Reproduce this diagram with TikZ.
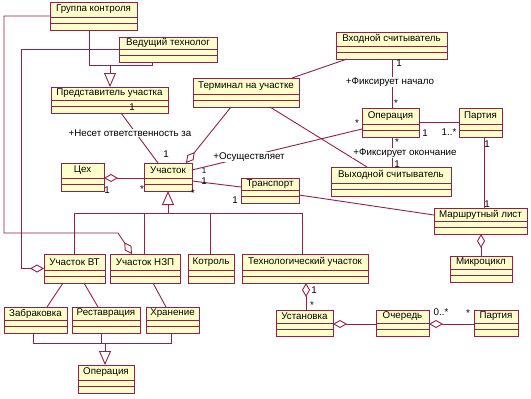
\documentclass[tikz,border=0pt]{standalone}
\usepackage{fontspec}
\setmainfont{Liberation Sans}
\usetikzlibrary{arrows.meta,calc}
\definecolor{umlred}{RGB}{150,30,75}
\definecolor{umlfill}{RGB}{255,255,204}
\newcommand\fs{\fontsize{9.8}{11}\selectfont}
\newcommand\fss{\fontsize{8}{9}\selectfont}
\tikzset{
  ln/.style={draw=umlred, line width=0.9bp},
  cls/.style={draw=umlred, fill=umlfill, line width=0.9bp, inner sep=0pt, outer sep=0pt},
  txt/.style={font=\fs, text=black, inner sep=0pt},
  mult/.style={font=\fs, text=black, inner sep=0pt},
  role/.style={font=\fs, text=black, fill=white, inner sep=1bp},
  smult/.style={font=\fss, text=black, inner sep=0pt},
  agg/.style={-{Diamond[open, length=14bp, width=8bp]}},
  gen/.style={-{Triangle[open, length=14bp, width=12bp]}}
}
\newcommand\umlbox[6]{%
  \node[cls, minimum width={(#4-#2)*1bp}, minimum height={(#5-#3)*1bp}] (#1) at ({(#2+#4)/2},{(#3+#5)/2}) {};
  \draw[ln] ($(#1.south west)+(0,-13)$) -- ($(#1.south east)+(0,-13)$);
  \draw[ln] ($(#1.south west)+(0,-6.5)$) -- ($(#1.south east)+(0,-6.5)$);
  \node[txt] (#1-t) at ({(#2+#4)/2},{(#3+#5-13)/2}) {#6};
}
\begin{document}
\begin{tikzpicture}[x=1bp,y=-1bp]
\fill[white] (0,0) rectangle (531,398);
\useasboundingbox (0,0) rectangle (531,398);

\umlbox{grp}{50}{2}{137}{30}{Группа контроля}
\umlbox{ved}{119}{37}{217}{62}{Ведущий технолог}
\umlbox{pred}{51}{87}{168}{113}{Представитель участка}
\umlbox{term}{193}{78}{299}{107}{Терминал на участке}
\umlbox{vhod}{336}{32}{447}{59}{Входной считыватель}
\umlbox{op1}{362}{108}{419}{137}{Операция}
\umlbox{part1}{459}{108}{502}{137}{Партия}
\umlbox{vyh}{331}{167}{451}{196}{Выходной считыватель}
\umlbox{mar}{434}{208}{527}{234}{Маршрутный лист}
\umlbox{mik}{450}{256}{512}{282}{Микроцикл}
\umlbox{tseh}{61}{163}{104}{191}{Цех}
\umlbox{uch}{144}{163}{192}{191}{Участок}
\umlbox{tr}{241}{178}{299}{203}{Транспорт}
\umlbox{vt}{44}{254}{105}{283}{Участок ВТ}
\umlbox{nzp}{110}{254}{180}{283}{Участок НЗП}
\umlbox{kon}{188}{254}{234}{283}{Котроль}
\umlbox{teh}{242}{254}{368}{283}{Технологический участок}
\umlbox{zab}{4}{307}{67}{333}{Забраковка}
\umlbox{res}{72}{307}{140}{333}{Реставрация}
\umlbox{hran}{146}{307}{199}{333}{Хранение}
\umlbox{op2}{78}{365}{134}{393}{Операция}
\umlbox{ust}{276}{310}{333}{336}{Установка}
\umlbox{och}{376}{310}{429}{336}{Очередь}
\umlbox{part2}{474}{310}{518}{336}{Партия}

% generalization to Представитель участка
\draw[ln] ($(grp.south west)+(39,0)$) |- ($(ved.south west)+(33,3)$) -- ($(ved.south west)+(33,0)$);
\draw[ln,gen] ($(pred.north west)+(59,-22)$) -- ($(pred.north west)+(59,0)$);

% Группа контроля -> Участок НЗП
\draw[ln,agg] (grp.west) -- ($(grp.west)+(-46,0)$) -- ($(grp.west)+(-46,217)$) -- ($(nzp.north west)+(8,-21)$) -- ($(nzp.north west)+(22,0)$);
% Ведущий технолог -> Участок ВТ
\draw[ln,agg] (ved.west) -- ($(ved.west)+(-98,0)$) |- (vt.west);

% Представитель -- Участок
\draw[ln] ($(pred.south west)+(70,0)$) -- ($(uch.north west)+(14,0)$);
% Терминал -> Участок
\draw[ln,agg] ($(term.south west)+(38,0)$) -- ($(uch.north west)+(42,0)$);
% Входной -- Терминал
\draw[ln] ($(vhod.south west)+(11,0)$) -- ($(term.north east)+(-7,0)$);
% Терминал -- Выходной
\draw[ln] ($(term.south west)+(77,0)$) -- ($(vyh.north west)+(36,0)$);
% Участок -- Операция
\draw[ln] ($(uch.north east)+(0,7)$) -- ($(op1.north west)+(0,21)$);
% Входной -- Операция
\draw[ln] ($(vhod.south west)+(56,0)$) -- ($(op1.north west)+(30,0)$);
% Операция -- Партия
\draw[ln] ($(op1.north east)+(0,14)$) -- ($(part1.north west)+(0,14)$);
% Операция -- Выходной
\draw[ln] ($(op1.south west)+(30,0)$) -- ($(vyh.north west)+(61,0)$);
% Партия -- Маршрутный лист
\draw[ln] ($(part1.south west)+(25,0)$) -- ($(mar.north west)+(50,0)$);
% Транспорт -- Маршрутный лист
\draw[ln] ($(tr.north east)+(0,17)$) -- ($(mar.north west)+(0,7)$);
% Участок -- Транспорт
\draw[ln] ($(uch.north east)+(0,18)$) -- ($(tr.north west)+(0,9)$);
% Участок -> Цех
\draw[ln,agg] ($(uch.north west)+(0,15)$) -- ($(tseh.north east)+(0,15)$);

% generalization to Участок
\draw[ln,gen] ($(uch.south west)+(24,14)$) -- ($(uch.south west)+(24,0)$);
\draw[ln] ($(uch.south west)+(24,14)$) -- ($(uch.south west)+(24,22)$);
\draw[ln] ($(vt.north west)+(30,0)$) |- ($(teh.north west)+(60,-41)$) -- ($(teh.north west)+(60,0)$);
\draw[ln] ($(nzp.north west)+(34,0)$) -- ($(nzp.north west)+(34,-41)$);
\draw[ln] ($(kon.north west)+(22,0)$) -- ($(kon.north west)+(22,-41)$);

% Участок ВТ / НЗП -- sub boxes
\draw[ln] ($(vt.south west)+(19,0)$) -- ($(zab.north west)+(43,0)$);
\draw[ln] ($(vt.south west)+(40,0)$) -- ($(res.north west)+(26,0)$);
\draw[ln] ($(nzp.south west)+(43,0)$) -- ($(hran.north west)+(20,0)$);

% generalization to Операция (bottom)
\draw[ln] ($(zab.south west)+(29,0)$) |- ($(hran.south west)+(25,10)$) -- ($(hran.south west)+(25,0)$);
\draw[ln] ($(res.south west)+(29,0)$) -- ($(res.south west)+(29,10)$);
\draw[ln,gen] ($(op2.north west)+(27,-22)$) -- ($(op2.north west)+(27,0)$);

% Установка -> Технологический участок
\draw[ln,agg] ($(ust.north west)+(30,0)$) -- ($(teh.south west)+(64,0)$);
% Очередь -> Установка
\draw[ln,agg] ($(och.north west)+(0,14)$) -- ($(ust.north east)+(0,14)$);
% Партия -> Очередь
\draw[ln,agg] ($(part2.north west)+(0,14)$) -- ($(och.north east)+(0,14)$);
% Микроцикл -> Маршрутный лист
\draw[ln,agg] ($(mik.north west)+(31,0)$) -- ($(mar.south west)+(47,0)$);

% labels
\node[mult] (l1) at (132,107) {1};
\node[role] (l2) at (130,133) {+Несет ответственность за};
\node[mult] (l3) at (166,154) {1};
\node[role] (l4) at (249,157) {+Осуществляет};
\node[smult] (l5) at (204,171) {1};
\node[mult] (l6) at (357,123) {*};
\node[mult] (l7) at (399,63) {1};
\node[role] (l8) at (390,82) {+Фиксирует начало};
\node[mult] (l9) at (396,103) {*};
\node[mult] (l10) at (425,133) {1};
\node[mult] (l11) at (449,132) {1..*};
\node[mult] (l12) at (397,142) {*};
\node[role] (l13) at (405,153) {+Фиксирует окончание};
\node[mult] (l14) at (397,164) {1};
\node[mult] (l15) at (487,144) {1};
\node[mult] (l16) at (487,204) {1};
\node[mult] (l17) at (204,181) {1};
\node[mult] (l18) at (235,200) {1};
\node[mult] (l19) at (142,189) {*};
\node[mult] (l20) at (193,193) {*};
\node[mult] (l21) at (107,190) {1};
\node[mult] (l22) at (314,290) {1};
\node[mult] (l23) at (312,305) {*};
\node[mult] (l24) at (441,312) {0..*};
\node[mult] (l25) at (468,313) {*};
\end{tikzpicture}
\end{document}
